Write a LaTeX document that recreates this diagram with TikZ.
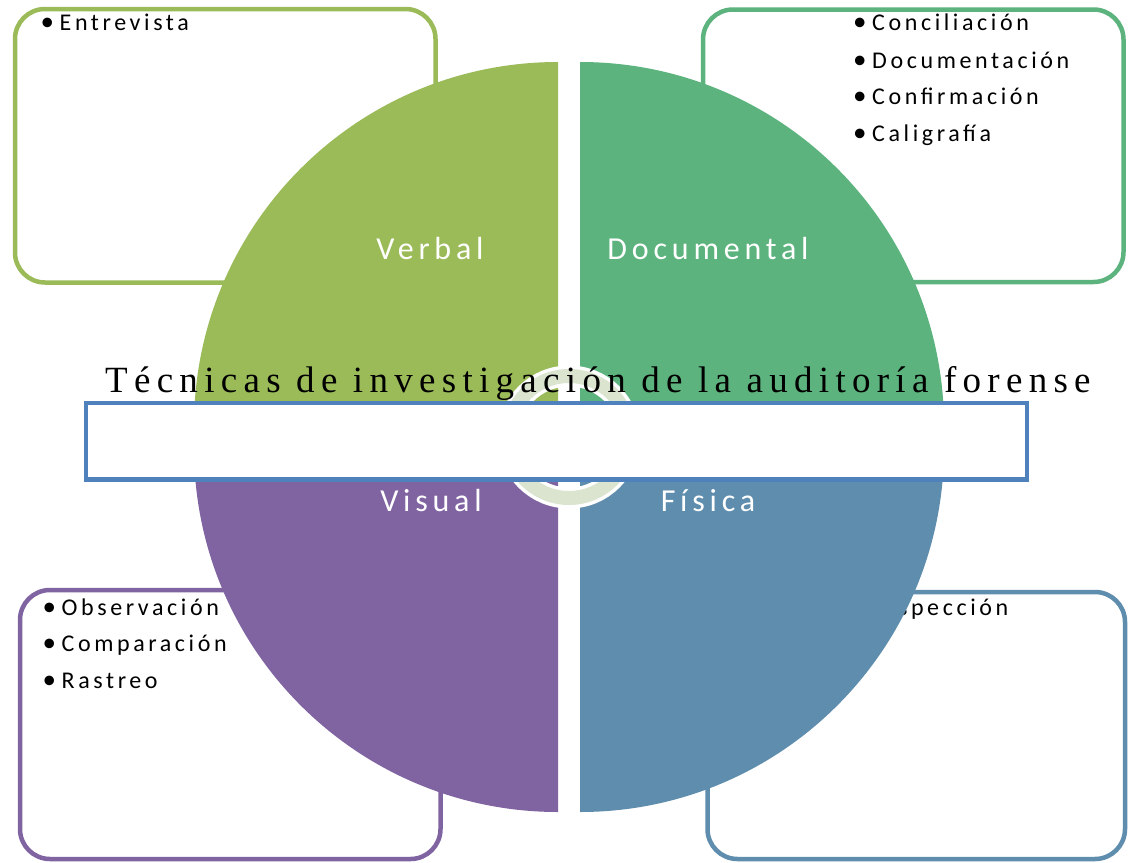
\documentclass[tikz,border=0pt]{standalone}
\usepackage{fontspec}
\setmainfont{Carlito}
\newfontfamily\lblfont[LetterSpace=15]{Carlito}
\newfontfamily\bulfont[LetterSpace=15]{Carlito}
\newfontfamily\titlefont[LetterSpace=17]{Liberation Serif}
\definecolor{cverbal}{HTML}{9BBB59}
\definecolor{cdoc}{HTML}{5CB37D}
\definecolor{cvis}{HTML}{8064A2}
\definecolor{cfis}{HTML}{5F8DAD}
\definecolor{cring}{HTML}{DAE4CF}
\definecolor{crect}{HTML}{4F81BD}
\tikzset{
  cornerbox/.style={line width=4.5pt, rounded corners=30pt, fill=white},
  bullettext/.style={anchor=base west, inner sep=0pt, font=\bulfont\fontsize{24}{29}\selectfont, text=black},
  quadlabel/.style={anchor=base, inner sep=0pt, font=\lblfont\fontsize{32}{38}\selectfont, text=white},
}
\newcommand{\bitem}[1]{\makebox[19pt][l]{\fontsize{27}{27}\selectfont•}#1}
\begin{document}
\begin{tikzpicture}[x=1pt,y=-1pt]
\useasboundingbox[fill=white] (0,0) rectangle (1129,862);
% corner boxes
\draw[cornerbox, draw=cverbal] (15,9) rectangle (435.5,282.5);
\draw[cornerbox, draw=cdoc] (703,9.5) rectangle (1123.5,282);
\draw[cornerbox, draw=cvis] (20,590) rectangle (440.5,859);
\draw[cornerbox, draw=cfis] (707.5,592) rectangle (1125,859);
% box texts
\node[bullettext] (t1) at (40.5,30) {\bitem{Entrevista}};
\node[bullettext] (t2a) at (853,30.7) {\bitem{Conciliación}};
\node[bullettext] (t2b) at (853,68.3) {\bitem{Documentación}};
\node[bullettext] (t2c) at (853,104.3) {\bitem{Confirmación}};
\node[bullettext] (t2d) at (853,141) {\bitem{Caligrafía}};
\node[bullettext] (t3a) at (42.5,615) {\bitem{Observación}};
\node[bullettext] (t3b) at (42.5,651.7) {\bitem{Comparación}};
\node[bullettext] (t3c) at (42.5,688.3) {\bitem{Rastreo}};
\node[bullettext] (t4a) at (853,615) {\bitem{Inspección}};
% quadrants
\fill[cverbal] (558,426) -- (194,426) arc[start angle=180,end angle=90,radius=364pt] -- cycle;
\fill[cdoc] (580,426) -- (580,62) arc[start angle=90,end angle=0,radius=364pt] -- cycle;
\fill[cvis] (558,448) -- (194,448) arc[start angle=180,end angle=270,radius=364pt] -- cycle;
\fill[cfis] (580,448) -- (944,448) arc[start angle=0,end angle=-90,radius=364pt] -- cycle;
% labels
\node[quadlabel] (lv) at (430,259) {Verbal};
\node[quadlabel] (ld) at (708,259) {Documental};
\node[quadlabel] (lvi) at (431,511) {Visual};
\node[quadlabel] (lf) at (708,511) {Física};
% center ring
\draw[white, line width=21pt] (569,437) circle[radius=61pt];
\draw[cring, line width=14pt] (569,437) circle[radius=61pt];
% rectangle
\node[draw=crect, line width=4.5pt, fill=white, minimum width=941pt, minimum height=76.5pt, inner sep=0pt] (rect) at (556.5,441.25) {};
% title
\node[anchor=base west, inner sep=0pt, font=\titlefont\fontsize{37}{43}\selectfont] (title) at (105,392) {Técnicas de investigación de la auditoría forense};
\end{tikzpicture}
\end{document}
